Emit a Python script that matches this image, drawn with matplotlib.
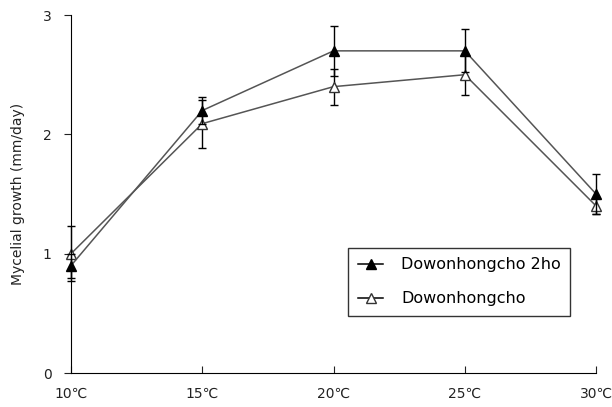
import matplotlib
matplotlib.use("Agg")
import matplotlib.pyplot as plt
from matplotlib.lines import Line2D
import numpy as np

# temperatures (deg C) and growth rates
temps = [10, 15, 20, 25, 30]
temp_labels = ["10℃", "15℃", "20℃", "25℃", "30℃"]
growth_2ho = [0.90, 2.20, 2.70, 2.70, 1.50]
err_2ho = [0.10, 0.11, 0.21, 0.18, 0.17]
growth_orig = [1.00, 2.09, 2.40, 2.50, 1.40]
err_orig = [0.23, 0.20, 0.15, 0.17, 0.07]

plt.rcParams['font.family'] = ['DejaVu Sans', 'Noto Sans CJK KR']

fig = plt.figure(figsize=(6.12, 4.07), dpi=100)
ax = fig.add_axes([0.116, 0.0835, 0.858, 0.8795])

line_col = "#555555"
styles = [
    (growth_2ho, err_2ho, "black", "black", "Dowonhongcho 2ho", 3),
    (growth_orig, err_orig, "white", "#333333", "Dowonhongcho", 2),
]
handles = []
for vals, errs, fc, ec, lab, z in styles:
    cont = ax.errorbar(temps, vals, yerr=errs, color=line_col, lw=1.1,
                       marker="^", ms=7, mfc=fc, mec=ec,
                       ecolor="black", elinewidth=1, capsize=3.2, capthick=1,
                       zorder=z)
    # keep end markers and caps from being cut at the axes edges
    cont.lines[0].set_clip_on(False)
    for art in cont.lines[1] + cont.lines[2]:
        art.set_clip_on(False)
    handles.append(Line2D([], [], color="black", lw=1.1, marker="^", ms=7,
                          mfc=fc, mec=ec, label=lab))

ax.set_xlim(10, 30)
ax.set_ylim(0, 3)
ax.set_xticks(temps)
ax.set_xticklabels(temp_labels)
ax.set_yticks([0, 1, 2, 3])
ax.spines['top'].set_visible(False)
ax.spines['right'].set_visible(False)
ax.tick_params(axis='x', direction='in', length=5, pad=10, labelsize=10, colors='#222222')
ax.tick_params(axis='y', direction='out', length=5, pad=9, labelsize=10, colors='#222222')
ax.set_ylabel("Mycelial growth (mm/day)", fontsize=10, color='#222222', labelpad=13)

leg = ax.legend(handles=handles, loc='upper left', bbox_to_anchor=(0.528, 0.35),
                frameon=True, fancybox=False, edgecolor='black', fontsize=11.5,
                borderpad=0.6, labelspacing=1.2, handlelength=1.6,
                handletextpad=1.1, borderaxespad=0)
leg.get_frame().set_linewidth(1)

fig.savefig("out.png", dpi=100)
